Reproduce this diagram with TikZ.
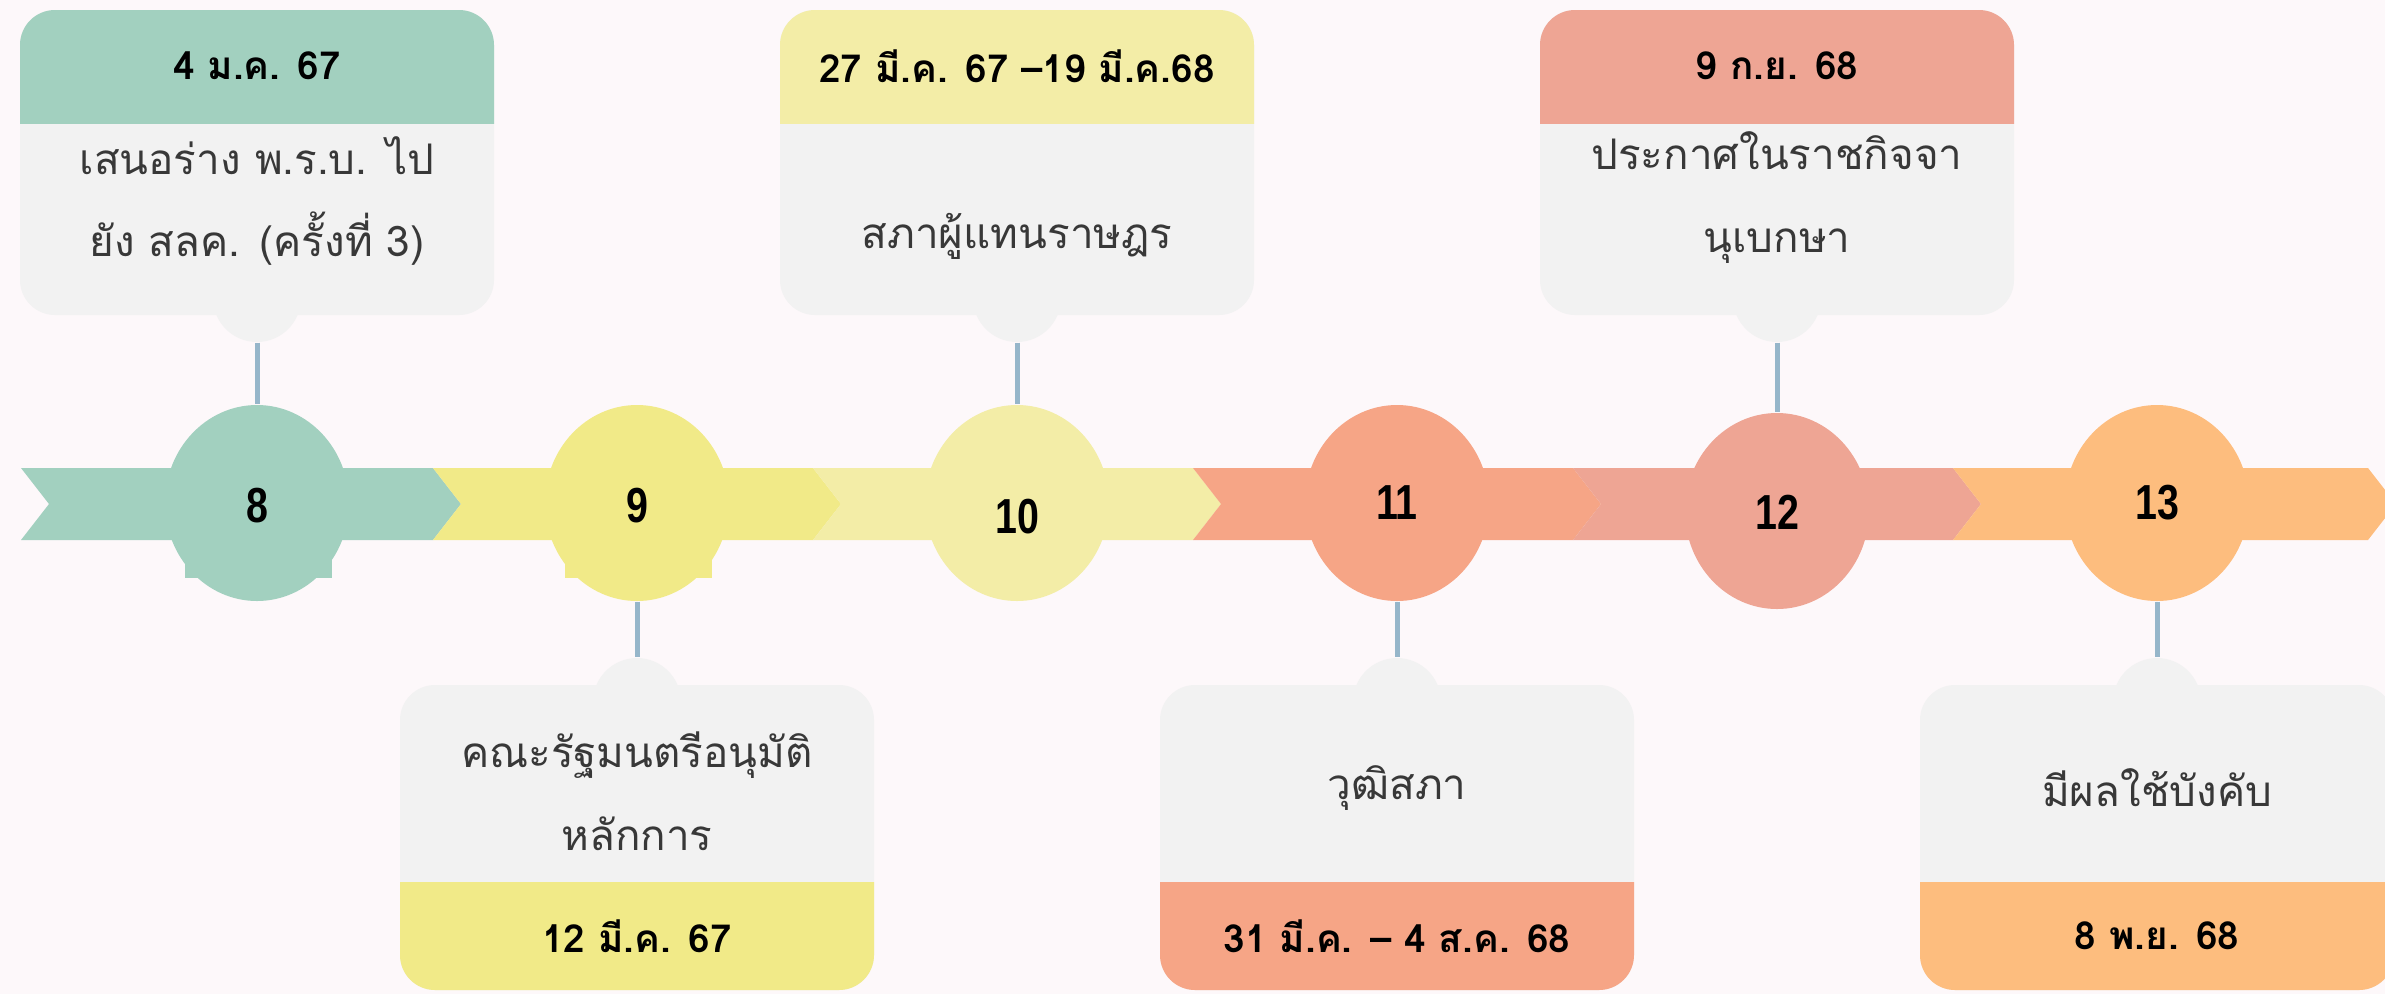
\documentclass[tikz,border=0pt]{standalone}
\usepackage{fontspec}
\usepackage{graphicx}
\setmainfont[Script=Thai]{Loma}
\newfontfamily\numfont{Liberation Sans}
\usetikzlibrary{positioning, shapes.geometric}

\definecolor{bgpink}{HTML}{FDF8FA}
\definecolor{cardgray}{HTML}{F2F2F2}
\definecolor{linkblue}{HTML}{96B6CA}
\definecolor{bodygray}{HTML}{383838}
\definecolor{tealstep}{HTML}{A2D0BF}
\definecolor{yellowstep}{HTML}{F1EA88}
\definecolor{paleystep}{HTML}{F3EDA7}
\definecolor{salmonstep}{HTML}{F6A586}
\definecolor{rosestep}{HTML}{EEA594}
\definecolor{orangestep}{HTML}{FDBD7E}

\tikzset{
  stepdot/.style={ellipse, minimum width=18.4mm, minimum height=19.6mm, inner sep=0pt},
  stepnum/.style={font=\numfont\bfseries\fontsize{14}{14}\selectfont, inner sep=0pt},
  bump/.style={circle, minimum size=8.8mm, inner sep=0pt, fill=cardgray},
  link/.style={draw=linkblue, line width=0.5mm},
  datetxt/.style={font=\bfseries\fontsize{11}{13}\selectfont, text=black},
  bodytxt/.style={align=center, text=bodygray, font=\fontsize{12}{23.6}\selectfont},
}

% one piece of the arrow band: from x=#1 to x=#2
\newcommand{\bandpiece}[3]{%
  \fill[#3] (#1,468) -- (#2,468) -- (#2+28,504) -- (#2,540) -- (#1,540) -- (#1+28,504) -- cycle;}

% card above the band, centred on x=#1
\newcommand{\topcard}[3]{%
  \fill[cardgray, rounded corners=3.5mm] (#1-237,10) rectangle (#1+237,315);
  \begin{scope}
    \clip (#1-240,0) rectangle (#1+240,123);
    \fill[#2, rounded corners=3.5mm] (#1-237,10) rectangle (#1+237,315);
  \end{scope}
  \node[bump] (#3) at (#1,298) {};}

% card below the band, centred on x=#1
\newcommand{\botcard}[3]{%
  \node[bump] (#3) at (#1,702) {};
  \fill[cardgray, rounded corners=3.5mm] (#1-237,685) rectangle (#1+237,990);
  \begin{scope}
    \clip (#1-240,882) rectangle (#1+240,994);
    \fill[#2, rounded corners=3.5mm] (#1-237,685) rectangle (#1+237,990);
  \end{scope}}

\begin{document}
\begin{tikzpicture}[x=0.1mm, y=-0.1mm]
  \useasboundingbox[fill=bgpink] (0,0) rectangle (2385,994);

  % arrow band
  \bandpiece{21}{433}{tealstep}
  \bandpiece{433}{813}{yellowstep}
  \bandpiece{813}{1193}{paleystep}
  \bandpiece{1193}{1573}{salmonstep}
  \bandpiece{1573}{1953}{rosestep}
  \bandpiece{1953}{2368}{orangestep}
  \fill[tealstep] (185,540) rectangle (332,578);
  \fill[yellowstep] (565,540) rectangle (712,578);

  % step circles
  \node[stepdot, fill=tealstep] (c8) at (257,503) {};
  \node[stepdot, fill=yellowstep] (c9) at (637,503) {};
  \node[stepdot, fill=paleystep] (c10) at (1017,503) {};
  \node[stepdot, fill=salmonstep] (c11) at (1397,503) {};
  \node[stepdot, fill=rosestep] (c12) at (1777,511) {};
  \node[stepdot, fill=orangestep] (c13) at (2157,503) {};
  \node[stepnum] (n8) at (257,506) {\scalebox{0.8}[1]{8}};
  \node[stepnum] (n9) at (637,506) {\scalebox{0.8}[1]{9}};
  \node[stepnum] (n10) at (1017,517) {\scalebox{0.8}[1]{10}};
  \node[stepnum] (n11) at (1397,503) {\scalebox{0.8}[1]{11}};
  \node[stepnum] (n12) at (1777,512) {\scalebox{0.8}[1]{12}};
  \node[stepnum] (n13) at (2157,503) {\scalebox{0.8}[1]{13}};

  % cards above
  \topcard{257}{tealstep}{b8}
  \node[datetxt] (d8) at (257,66) {4 ม.ค. 67};
  \node[bodytxt] (t8) at (257,201) {เสนอร่าง พ.ร.บ. ไป\\ยัง สลค. (ครั้งที่ 3)};
  \topcard{1017}{paleystep}{b10}
  \node[datetxt] (d10) at (1017,66) {27 มี.ค. 67 –19 มี.ค.68};
  \node[bodytxt] (t10) at (1017,236) {สภาผู้แทนราษฎร};
  \topcard{1777}{rosestep}{b12}
  \node[datetxt] (d12) at (1777,66) {9 ก.ย. 68};
  \node[bodytxt] (t12) at (1777,198) {ประกาศในราชกิจจา\\นุเบกษา};

  % cards below
  \botcard{637}{yellowstep}{b9}
  \node[bodytxt] (t9) at (637,791) {คณะรัฐมนตรีอนุมัติ\\หลักการ};
  \node[datetxt] (d9) at (637,936) {12 มี.ค. 67};
  \botcard{1397}{salmonstep}{b11}
  \node[bodytxt] (t11) at (1397,788) {วุฒิสภา};
  \node[datetxt] (d11) at (1397,936) {31 มี.ค. – 4 ส.ค. 68};
  \botcard{2157}{orangestep}{b13}
  \node[bodytxt] (t13) at (2157,788) {มีผลใช้บังคับ};
  \node[datetxt] (d13) at (2157,936) {8 พ.ย. 68};

  % connectors
  \draw[link] (b8.south) -- (c8.north);
  \draw[link] (b10.south) -- (c10.north);
  \draw[link] (b12.south) -- (c12.north);
  \draw[link] (c9.south) -- (b9.north);
  \draw[link] (c11.south) -- (b11.north);
  \draw[link] (c13.south) -- (b13.north);
\end{tikzpicture}
\end{document}
